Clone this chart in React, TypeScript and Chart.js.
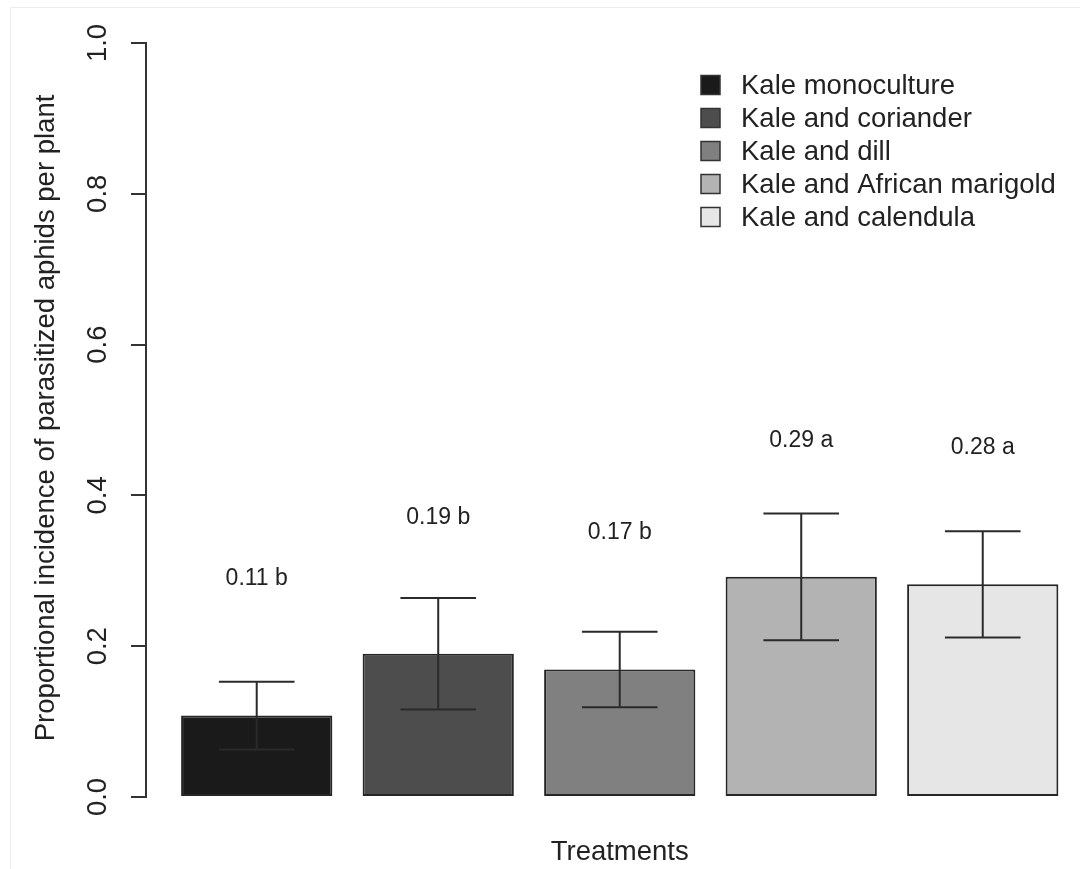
import React, { useEffect, useRef } from 'react';
import { Chart, registerables } from 'chart.js';

Chart.register(...registerables);

// ---- data ----
const treatments = [
  'Kale monoculture',
  'Kale and coriander',
  'Kale and dill',
  'Kale and African marigold',
  'Kale and calendula',
];
const means = [0.108, 0.19, 0.169, 0.292, 0.282];
const errors = [0.045, 0.074, 0.05, 0.084, 0.0705];
const barLabels = ['0.11 b', '0.19 b', '0.17 b', '0.29 a', '0.28 a'];
const labelHeights = [0.29, 0.371, 0.35, 0.473, 0.463];
const barColors = ['#1a1a1a', '#4d4d4d', '#808080', '#b3b3b3', '#e6e6e6'];
const yTickValues = [0, 0.2, 0.4, 0.6, 0.8, 1.0];
const yTickLabels = ['0.0', '0.2', '0.4', '0.6', '0.8', '1.0'];
const yTitle = 'Proportional incidence of parasitized aphids per plant';
const xTitle = 'Treatments';

const FONT = '"Liberation Sans", Arial, Helvetica, sans-serif';
const INK = '#222';

export default function App() {
  const ref = useRef<HTMLCanvasElement>(null);

  useEffect(() => {
    if (!ref.current) return;
    // R barplot layout: bar width 1, space 0.2
    const space = 0.2;
    const xs = means.map((_, i) => space + i * (1 + space) + 0.5);
    const xMin = -0.032;
    const xMax = 6.11;
    const capHalf = 0.25;

    const decor = {
      id: 'rdecor',
      afterDatasetsDraw(chart: any) {
        const ctx = chart.ctx;
        const xS = chart.scales.x;
        const yS = chart.scales.y;
        ctx.save();
        ctx.strokeStyle = '#2a2a2a';
        ctx.lineWidth = 2;
        for (let i = 0; i < means.length; i++) {
          const cx = xS.getPixelForValue(xs[i]);
          const hw = xS.getPixelForValue(xs[i] + capHalf) - cx;
          const hi = yS.getPixelForValue(means[i] + errors[i]);
          const lo = yS.getPixelForValue(means[i] - errors[i]);
          ctx.beginPath();
          ctx.moveTo(cx, lo);
          ctx.lineTo(cx, hi);
          ctx.moveTo(cx - hw, hi);
          ctx.lineTo(cx + hw, hi);
          ctx.moveTo(cx - hw, lo);
          ctx.lineTo(cx + hw, lo);
          ctx.stroke();
        }
        ctx.fillStyle = INK;
        ctx.font = `23px ${FONT}`;
        ctx.textAlign = 'center';
        ctx.textBaseline = 'middle';
        for (let i = 0; i < barLabels.length; i++) {
          ctx.fillText(barLabels[i], xS.getPixelForValue(xs[i]), yS.getPixelForValue(labelHeights[i]));
        }
        ctx.restore();
      },
      afterDraw(chart: any) {
        const ctx = chart.ctx;
        const xS = chart.scales.x;
        const yS = chart.scales.y;
        const area = chart.chartArea;
        ctx.save();
        ctx.fillStyle = INK;
        ctx.font = `27.5px ${FONT}`;
        ctx.textAlign = 'center';
        ctx.textBaseline = 'middle';
        // rotated y tick labels
        yS.ticks.forEach((t: any, i: number) => {
          const y = yS.getPixelForValue(t.value);
          ctx.save();
          ctx.translate(area.left - 48, y);
          ctx.rotate(-Math.PI / 2);
          ctx.fillText(yTickLabels[i], 0, 0);
          ctx.restore();
        });
        // y title
        ctx.save();
        ctx.translate(46, (area.top + area.bottom) / 2 - 2);
        ctx.rotate(-Math.PI / 2);
        ctx.fillText(yTitle, 0, 0);
        ctx.restore();
        // x title
        ctx.fillText(xTitle, xS.getPixelForValue((space + xs[xs.length - 1] + 0.5) / 2), 852);
        // legend
        ctx.textAlign = 'left';
        for (let i = 0; i < treatments.length; i++) {
          const y = 85 + 33 * i;
          ctx.fillStyle = barColors[i];
          ctx.fillRect(701, y - 9.5, 19, 19);
          ctx.strokeStyle = '#333';
          ctx.lineWidth = 1.5;
          ctx.strokeRect(701, y - 9.5, 19, 19);
          ctx.fillStyle = INK;
          ctx.fillText(treatments[i], 741, y + 1);
        }
        ctx.restore();
      },
    };

    const chart = new Chart(ref.current, {
      type: 'bar',
      data: {
        datasets: [
          {
            label: 'Proportion',
            data: xs.map((x, i) => ({ x, y: means[i] })),
            backgroundColor: barColors,
            borderColor: '#262626',
            borderWidth: 2,
            borderSkipped: false,
            barPercentage: 1,
            categoryPercentage: 1 / 1.2,
          },
        ],
      },
      options: {
        animation: false,
        responsive: false,
        devicePixelRatio: 1,
        layout: { padding: { top: 43, bottom: 72, left: 0, right: 5 } },
        plugins: { legend: { display: false }, tooltip: { enabled: false } },
        scales: {
          x: {
            type: 'linear',
            min: xMin,
            max: xMax,
            offset: false,
            display: false,
            grid: { offset: false },
            afterBuildTicks: (s: any) => {
              s.ticks = [{ value: xMin }, { value: xMax }];
            },
          },
          y: {
            min: 0,
            max: 1,
            afterBuildTicks: (s: any) => {
              s.ticks = yTickValues.map((v) => ({ value: v }));
            },
            ticks: { display: false },
            grid: { drawOnChartArea: false, drawTicks: true, tickLength: 15, color: '#333', lineWidth: 2 },
            border: { display: true, color: '#333', width: 2 },
            afterFit: (s: any) => {
              s.width = 146;
            },
          },
        },
      },
      plugins: [decor],
    } as any);
    return () => chart.destroy();
  }, []);

  return (
    <div style={{ position: 'absolute', left: 0, top: 0, width: 1080, height: 869, background: '#fff', overflow: 'hidden' }}>
      <div
        style={{
          position: 'absolute',
          left: 10,
          top: 7,
          width: 1100,
          height: 900,
          borderLeft: '1px solid #ededed',
          borderTop: '1px solid #ededed',
        }}
      />
      <canvas ref={ref} width={1080} height={869} style={{ position: 'absolute', left: 0, top: 0, display: 'block' }} />
    </div>
  );
}
